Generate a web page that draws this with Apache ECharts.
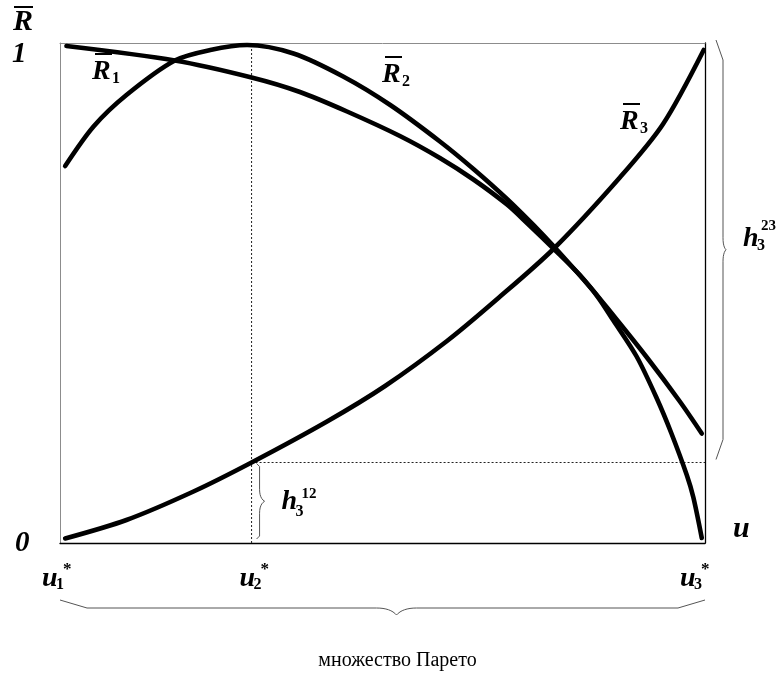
<!DOCTYPE html>
<html>
<head>
<meta charset="utf-8">
<script src="https://cdn.jsdelivr.net/npm/echarts@6/dist/echarts.min.js"></script>
<style>
  html, body { margin: 0; padding: 0; background: #fff; }
  #chart { width: 779px; height: 674px; }
</style>
</head>
<body>
<div id="chart"></div>
<script>
// Normalised criteria R̄1, R̄2, R̄3 over the control variable u (both axes 0..1)
const r1 = [
  [0.010, 0.994], [0.178, 0.965], [0.297, 0.931], [0.372, 0.902], [0.445, 0.863],
  [0.527, 0.814], [0.589, 0.770], [0.641, 0.727], [0.693, 0.677], [0.724, 0.640],
  [0.765, 0.589], [0.806, 0.536], [0.858, 0.455], [0.910, 0.371], [0.961, 0.283],
  [0.995, 0.219]
];
const r2 = [
  [0.008, 0.754], [0.052, 0.833], [0.103, 0.896], [0.178, 0.965], [0.233, 0.986],
  [0.290, 0.996], [0.362, 0.979], [0.439, 0.933], [0.512, 0.876], [0.589, 0.803],
  [0.641, 0.748], [0.693, 0.688], [0.744, 0.623], [0.765, 0.594], [0.795, 0.551],
  [0.831, 0.497], [0.858, 0.445], [0.894, 0.373], [0.925, 0.290], [0.948, 0.219],
  [0.972, 0.135], [0.982, 0.091], [0.995, 0.010]
];
const r3 = [
  [0.008, 0.009], [0.103, 0.046], [0.207, 0.103], [0.297, 0.161], [0.414, 0.243],
  [0.504, 0.314], [0.600, 0.404], [0.677, 0.487], [0.765, 0.588], [0.868, 0.731],
  [0.935, 0.838], [0.998, 0.986]
];

// Pareto bounds u1*, u2*, u3* and the level of R̄3 at u2*
const paretoU = [0, 0.297, 1];
const h12 = 0.161;
const rTop = 1;

const FONT = '"Liberation Serif", "Times New Roman", serif';

const chart = echarts.init(document.getElementById('chart'), null, { renderer: 'canvas' });

const frameAxis = (position, color, width) => ({
  type: 'value', min: 0, max: 1, position,
  axisLine: { show: true, onZero: false, lineStyle: { color, width } },
  axisTick: { show: false }, axisLabel: { show: false }, splitLine: { show: false }
});

const curve = (name, data) => ({
  name, type: 'line', data, smooth: 0.3, symbol: 'none', clip: false, z: 5,
  lineStyle: { color: '#000', width: 4.6, cap: 'round' }
});

const guide = (data) => ({
  type: 'line', data, symbol: 'none', silent: true, clip: false, z: 2,
  lineStyle: { color: '#222', width: 1, type: [2, 2] }
});

chart.setOption({
  animation: false,
  backgroundColor: '#fff',
  grid: { left: 60, top: 43, right: 74, bottom: 131 },
  xAxis: [frameAxis('bottom', '#000', 1.3), frameAxis('top', '#8c8c8c', 1)],
  yAxis: [frameAxis('left', '#8c8c8c', 1), frameAxis('right', '#000', 1.3)],
  series: [
    guide([[paretoU[1], 0], [paretoU[1], 1]]),
    guide([[paretoU[1], h12], [paretoU[2], h12]]),
    curve('R1', r1),
    curve('R2', r2),
    curve('R3', r3)
  ]
});

// Annotations: labels with sub/superscripts and curly braces
const px = (x, y) => chart.convertToPixel({ xAxisIndex: 0, yAxisIndex: 0 }, [x, y]);

// text placed by its baseline
function txt(str, x, base, size, italic, weight, align) {
  return {
    type: 'text', x, y: base - 0.8 * size, silent: true, z: 10,
    style: {
      text: str, fill: '#000',
      font: (italic ? 'italic ' : '') + (weight || 'bold') + ' ' + size + 'px ' + FONT,
      align: align || 'left', verticalAlign: 'top'
    }
  };
}
function bar(x1, x2, y) {
  return { type: 'line', silent: true, z: 10,
    shape: { x1, y1: y, x2, y2: y }, style: { stroke: '#000', lineWidth: 2 } };
}
function rBar(x, base, sub) {
  // R with an overline and an upright subscript
  const out = [bar(x + 3, x + 20, base - 26), txt('R', x, base, 28, true)];
  if (sub) out.push(txt(sub, x + 20, base + 4, 16, false));
  return out;
}
function quad(p0, c, p1, n) {
  const pts = [];
  for (let i = 1; i <= n; i++) {
    const t = i / n, a = (1 - t) * (1 - t), b = 2 * t * (1 - t), d = t * t;
    pts.push([a * p0[0] + b * c[0] + d * p1[0], a * p0[1] + b * c[1] + d * p1[1]]);
  }
  return pts;
}
function braceLine(points) {
  return { type: 'polyline', silent: true, z: 10, shape: { points },
    style: { stroke: '#555', lineWidth: 1, fill: null } };
}
function vBrace(x, yTop, yBot, hookDx, hookDy, tip) {
  const s = x + hookDx, ym = (yTop + yBot) / 2;
  const pts = [[x, yTop], [s, yTop + hookDy], [s, ym - 12]];
  pts.push(...quad([s, ym - 12], [s, ym - 3], [s + tip, ym], 6));
  pts.push(...quad([s + tip, ym], [s, ym + 3], [s, ym + 12], 6));
  pts.push([s, yBot - hookDy], [x, yBot]);
  return braceLine(pts);
}
function hBrace(xL, xR, y, hookDx, hookDy, tip, shift) {
  const s = y + hookDy, xm = (xL + xR) / 2 + shift;
  const pts = [[xL, y], [xL + hookDx, s], [xm - 20, s]];
  pts.push(...quad([xm - 20, s], [xm - 6, s], [xm, s + tip], 8));
  pts.push(...quad([xm, s + tip], [xm + 6, s], [xm + 20, s], 8));
  pts.push([xR - hookDx, s], [xR, y]);
  return braceLine(pts);
}

const O = px(0, 0), T = px(0, 1), E = px(1, 0);
const H12 = px(paretoU[1], h12), HR = px(1, h12), TR = px(1, rTop);

const g = [];
// y axis title R̄ and the 1 / 0 marks
g.push(bar(T[0] - 46, T[0] - 27, T[1] - 36), txt('R', T[0] - 47, T[1] - 12, 30, true));
g.push(txt('1', T[0] - 48, T[1] + 20, 29, true));
g.push(txt('0', O[0] - 45, O[1] + 9, 29, true));
// x axis name
g.push(txt('u', E[0] + 28, O[1] - 5, 30, true));
// Pareto bounds under the axis
[[paretoU[0], -18, '1'], [paretoU[1], -12, '2'], [paretoU[2], -25, '3']].forEach(([u, dx, k]) => {
  const p = px(u, 0);
  g.push(txt('u', p[0] + dx, O[1] + 44, 28, true));
  g.push(txt(k, p[0] + dx + 14, O[1] + 47, 16, false));
  g.push(txt('*', p[0] + dx + 21, O[1] + 32, 17, false));
});
// curve names
g.push(...rBar(92, 80, '1'));
g.push(...rBar(382, 83, '2'));
g.push(...rBar(620, 130, '3'));
// h3^12 next to its brace
g.push(vBrace(H12[0] + 5, H12[1] + 1, O[1] - 4, 3, 3, 5));
g.push(txt('h', H12[0] + 30, H12[1] + 48, 28, true));
g.push(txt('3', H12[0] + 44, H12[1] + 54, 16, false));
g.push(txt('12', H12[0] + 50, H12[1] + 36, 15, false));
// h3^23 on the right
g.push(vBrace(TR[0] + 11, TR[1] - 3, HR[1] - 3, 7, 20, 3));
g.push(txt('h', TR[0] + 38, TR[1] + 204, 28, true));
g.push(txt('3', TR[0] + 52, TR[1] + 208, 16, false));
g.push(txt('23', TR[0] + 56, TR[1] + 188, 15, false));
// Pareto set brace and caption
g.push(hBrace(O[0], E[0], O[1] + 57, 27, 8, 7, 14));
g.push(txt('множество Парето', (O[0] + E[0]) / 2 + 15, O[1] + 124, 20, false, 'normal', 'center'));

chart.setOption({ graphic: g });
</script>
</body>
</html>
